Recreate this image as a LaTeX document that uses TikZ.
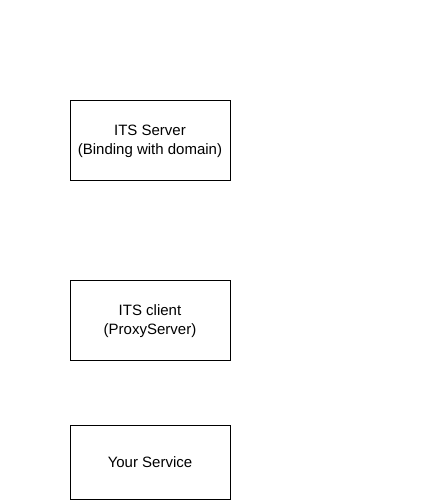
\documentclass[tikz,border=0pt]{standalone}
\usepackage{fontspec}
\setmainfont{Liberation Sans}
\usetikzlibrary{positioning}

\tikzset{
  svcbox/.style={draw, line width=0.8pt, minimum width=160pt, align=center,
    font=\fontsize{15}{19}\selectfont, inner sep=0pt, text depth=0pt}
}

\begin{document}
\begin{tikzpicture}[x=1pt,y=-1pt]

\useasboundingbox (0,0) rectangle (430,501);

\node[svcbox, minimum height=80pt] (server) at (150,140) {ITS Server\\(Binding with domain)};
\node[svcbox, minimum height=80pt] (client) at (150,320) {ITS client\\(ProxyServer)};
\node[svcbox, minimum height=74pt] (service) at (150,462) {Your Service};
\end{tikzpicture}
\end{document}
